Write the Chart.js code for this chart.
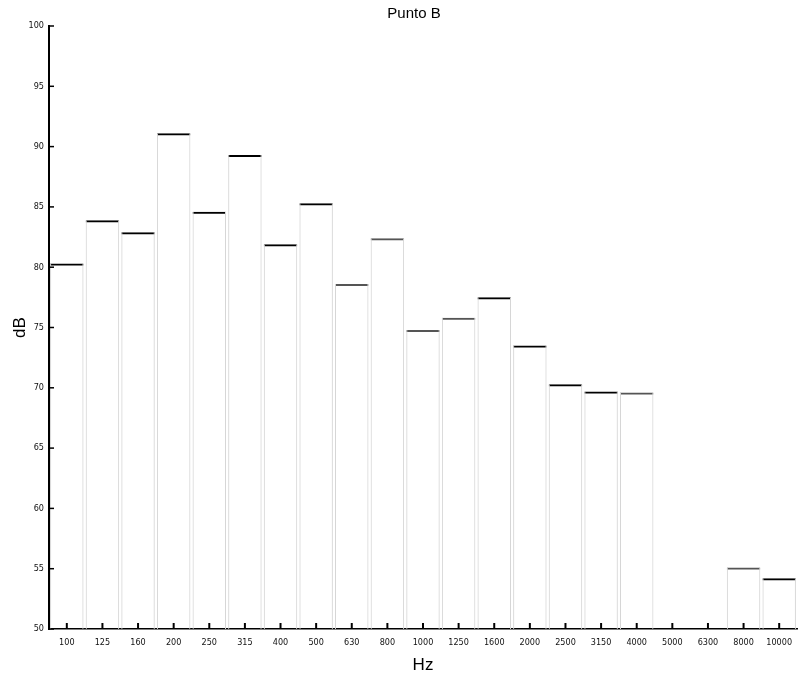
<!DOCTYPE html>
<html>
<head>
<meta charset="utf-8">
<title>Punto B</title>
<script src="https://cdn.jsdelivr.net/npm/chart.js@4.4.1/dist/chart.umd.min.js"></script>
<style>
  html, body { margin: 0; padding: 0; background: #fff; }
  #wrap { width: 804px; height: 678px; position: relative; }
</style>
</head>
<body>
<div id="wrap"><canvas id="chart"></canvas></div>
<script>
// third-octave bands (Hz) and levels (dB)
const bands = ['100', '125', '160', '200', '250', '315', '400', '500', '630', '800', '1000',
               '1250', '1600', '2000', '2500', '3150', '4000', '5000', '6300', '8000', '10000'];
const levels = [80.3, 83.9, 82.9, 91.1, 84.6, 89.3, 81.9, 85.3, 78.6, 82.4, 74.8,
                75.8, 77.5, 73.5, 70.3, 69.7, 69.6, null, null, 55.1, 54.2];
const yTicks = [50, 55, 60, 65, 70, 75, 80, 85, 90, 95, 100];

const tickFont = { family: "'Liberation Sans Narrow', 'DejaVu Sans Condensed', sans-serif", size: 9 };

// top edge is faint/dashed in the scan for some bands
const topColors = levels.map((v, i) => [8, 9, 10, 11, 16, 19].includes(i) ? '#555' : '#000');

// inward tick marks + title, like the original plot
const decorPlugin = {
    id: 'decor',
    afterDraw(chart) {
        const { ctx, chartArea, scales } = chart;
        ctx.save();
        ctx.strokeStyle = '#000';
        ctx.lineWidth = 1.5;
        yTicks.forEach(v => {
            const y = scales.y.getPixelForValue(v);
            ctx.beginPath();
            ctx.moveTo(chartArea.left, y);
            ctx.lineTo(chartArea.left + 5, y);
            ctx.stroke();
        });
        ctx.lineWidth = 2;
        bands.forEach((b, i) => {
            const x = scales.x.getPixelForValue(i);
            ctx.beginPath();
            ctx.moveTo(x, chartArea.bottom);
            ctx.lineTo(x, chartArea.bottom - 6);
            ctx.stroke();
        });
        ctx.fillStyle = '#000';
        ctx.font = "15px 'Liberation Sans', Arial, sans-serif";
        ctx.textAlign = 'center';
        ctx.textBaseline = 'middle';
        ctx.fillText('Punto B', (chartArea.left + chartArea.right) / 2 - 9, 14);
        ctx.restore();
    }
};

new Chart(document.getElementById('chart'), {
    type: 'bar',
    data: {
        labels: bands,
        datasets: [{
            // faint vertical sides of each band
            data: levels,
            grouped: false,
            backgroundColor: 'rgba(0,0,0,0)',
            borderColor: '#d6d6d6',
            borderWidth: { top: 0, bottom: 0, left: 1, right: 1 },
            borderSkipped: false,
            barPercentage: 0.94,
            categoryPercentage: 1
        }, {
            // band level (top edge)
            data: levels,
            grouped: false,
            backgroundColor: 'rgba(0,0,0,0)',
            borderColor: topColors,
            borderWidth: { top: 2, bottom: 0, left: 0, right: 0 },
            borderSkipped: false,
            barPercentage: 0.94,
            categoryPercentage: 1
        }]
    },
    options: {
        responsive: true,
        maintainAspectRatio: false,
        animation: false,
        layout: { padding: { top: 26, right: 7, bottom: 0, left: 0 } },
        plugins: {
            legend: { display: false },
            title: { display: false },
            tooltip: { enabled: false }
        },
        scales: {
            x: {
                grid: { display: false, drawTicks: false },
                border: { color: '#000', width: 1.5 },
                ticks: { color: '#111', font: tickFont, padding: 8, maxRotation: 0, autoSkip: false },
                title: {
                    display: true, text: 'Hz', color: '#000',
                    font: { family: "'Liberation Sans', Arial, sans-serif", size: 17 },
                    padding: { top: 0, bottom: 2 }
                },
                afterFit(scale) { scale.height = 49; }
            },
            y: {
                min: 50,
                max: 100,
                grid: { display: false, drawTicks: false },
                border: { color: '#000', width: 2 },
                afterBuildTicks(scale) { scale.ticks = yTicks.map(v => ({ value: v })); },
                ticks: { color: '#111', font: tickFont, padding: 5 },
                title: {
                    display: true, text: 'dB', color: '#000',
                    font: { family: "'Liberation Sans', Arial, sans-serif", size: 17 },
                    padding: { top: 10, bottom: 0 }
                },
                afterFit(scale) { scale.width = 49; }
            }
        }
    },
    plugins: [decorPlugin]
});
</script>
</body>
</html>
